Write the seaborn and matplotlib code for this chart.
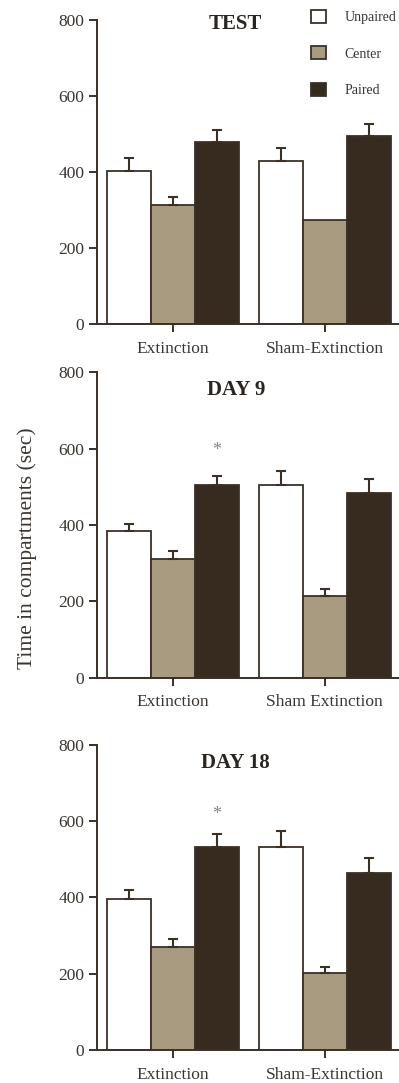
import numpy as np
import pandas as pd
import matplotlib
matplotlib.use("Agg")
import matplotlib.pyplot as plt
from matplotlib.patches import Patch
from matplotlib.transforms import blended_transform_factory
import seaborn as sns

# ---- data -------------------------------------------------------------
compartments = ["Unpaired", "Center", "Paired"]
group_labels_test = ["Extinction", "Sham-Extinction"]
group_labels_day9 = ["Extinction", "Sham Extinction"]
group_labels_day18 = ["Extinction", "Sham-Extinction"]
panel_titles = ["TEST", "DAY 9", "DAY 18"]

# mean time (sec) per group, ordered Unpaired, Center, Paired
test_ext = [403, 313, 479]
test_sham = [428, 274, 495]
day9_ext = [384, 311, 504]
day9_sham = [504, 213, 483]
day18_ext = [395, 271, 533]
day18_sham = [531, 203, 465]

# SEM (upper half only is drawn)
test_ext_sem = [33, 20, 32]
test_sham_sem = [34, 0, 31]
day9_ext_sem = [18, 21, 24]
day9_sham_sem = [37, 19, 37]
day18_ext_sem = [25, 20, 32]
day18_sham_sem = [43, 15, 38]

# significance markers: (group index, compartment index, y position)
day9_marks = [(0, 2, 595)]
day18_marks = [(0, 2, 617)]

yticks = [0, 200, 400, 600, 800]

# ---- style ------------------------------------------------------------
sns.set_theme(style="ticks")
plt.rcParams["font.family"] = ["Liberation Serif", "DejaVu Serif"]
ink = "#3a3026"
palette = ["#ffffff", "#a89b80", "#372b1f"]

fig = plt.figure(figsize=(3.99, 10.83), dpi=100)

left = 97 / 399
width = 1 - left
panel_boxes = [
    (1 - 324 / 1083, (324 - 20) / 1083),
    (1 - 677.7 / 1083, (677.7 - 372.3) / 1083),
    (1 - 1050 / 1083, (1050 - 744.7) / 1083),
]

panels = [
    (panel_titles[0], group_labels_test, test_ext, test_sham, test_ext_sem, test_sham_sem, [], 789),
    (panel_titles[1], group_labels_day9, day9_ext, day9_sham, day9_ext_sem, day9_sham_sem, day9_marks, 754),
    (panel_titles[2], group_labels_day18, day18_ext, day18_sham, day18_ext_sem, day18_sham_sem, day18_marks, 753),
]

for (bottom, height), (title, groups, ext, sham, ext_sem, sham_sem, marks, title_y) in zip(panel_boxes, panels):
    ax = fig.add_axes([left, bottom, width, height])
    df = pd.DataFrame({
        "group": [groups[0]] * 3 + [groups[1]] * 3,
        "compartment": compartments * 2,
        "time": ext + sham,
        "sem": ext_sem + sham_sem,
    })
    sns.barplot(data=df, x="group", y="time", hue="compartment",
                order=groups, hue_order=compartments, palette=palette,
                width=0.868, gap=0, errorbar=None, edgecolor=ink,
                linewidth=1.3, saturation=1, legend=False, ax=ax)
    bar_containers = list(ax.containers)

    # one-sided SEM bars placed on each drawn bar
    for ci, cont in enumerate(bar_containers):
        for gi, bar in enumerate(cont):
            row = df[(df["group"] == groups[gi]) & (df["compartment"] == compartments[ci])].iloc[0]
            xc = bar.get_x() + bar.get_width() / 2
            h = bar.get_height()
            if row["sem"] > 0:
                ax.errorbar([xc], [h], yerr=[[0], [row["sem"]]], fmt="none",
                            ecolor=ink, elinewidth=1.5, capsize=3.6,
                            capthick=1.5, zorder=5)
    for gi, ci, ymark in marks:
        bar = bar_containers[ci][gi]
        ax.text(bar.get_x() + bar.get_width() / 2, ymark, "*",
                ha="center", va="center", fontsize=13, color="#8a8580")

    ax.set_xlim(-0.5, 1.49)
    ax.set_ylim(0, 800)
    ax.set_yticks(yticks)
    ax.set_xlabel("")
    ax.set_ylabel("")
    for side in ("top", "right"):
        ax.spines[side].set_visible(False)
    for side in ("left", "bottom"):
        ax.spines[side].set_color(ink)
        ax.spines[side].set_linewidth(1.4)
    ax.tick_params(axis="both", colors=ink, length=6, width=1.4,
                   labelsize=12.5, labelcolor="#3a3530", pad=3)
    ax.tick_params(axis="x", pad=6)
    ax.set_facecolor("none")
    trans = blended_transform_factory(ax.transData, ax.transData)
    ax.text(0.414, title_y, title, ha="center", va="center",
            fontsize=15, fontweight="bold", color="#2a2520", transform=trans)

    if title == "TEST":
        handles = [Patch(facecolor=c, edgecolor=ink, linewidth=1.3) for c in palette]
        fig.legend(handles, compartments, loc="upper left",
                   bbox_to_anchor=(311 / 399, 1 - 10 / 1083),
                   bbox_transform=fig.transFigure, frameon=False,
                   fontsize=10, handlelength=1.08, handleheight=1.08,
                   handletextpad=1.35, labelspacing=1.58, borderpad=0,
                   borderaxespad=0, labelcolor="#3a3530")

fig.text(27 / 399, 1 - 548 / 1083, "Time in compartments (sec)",
         rotation=90, ha="center", va="center", fontsize=15.5, color="#3a3530")

fig.savefig("out.png", dpi=100, facecolor="white")
